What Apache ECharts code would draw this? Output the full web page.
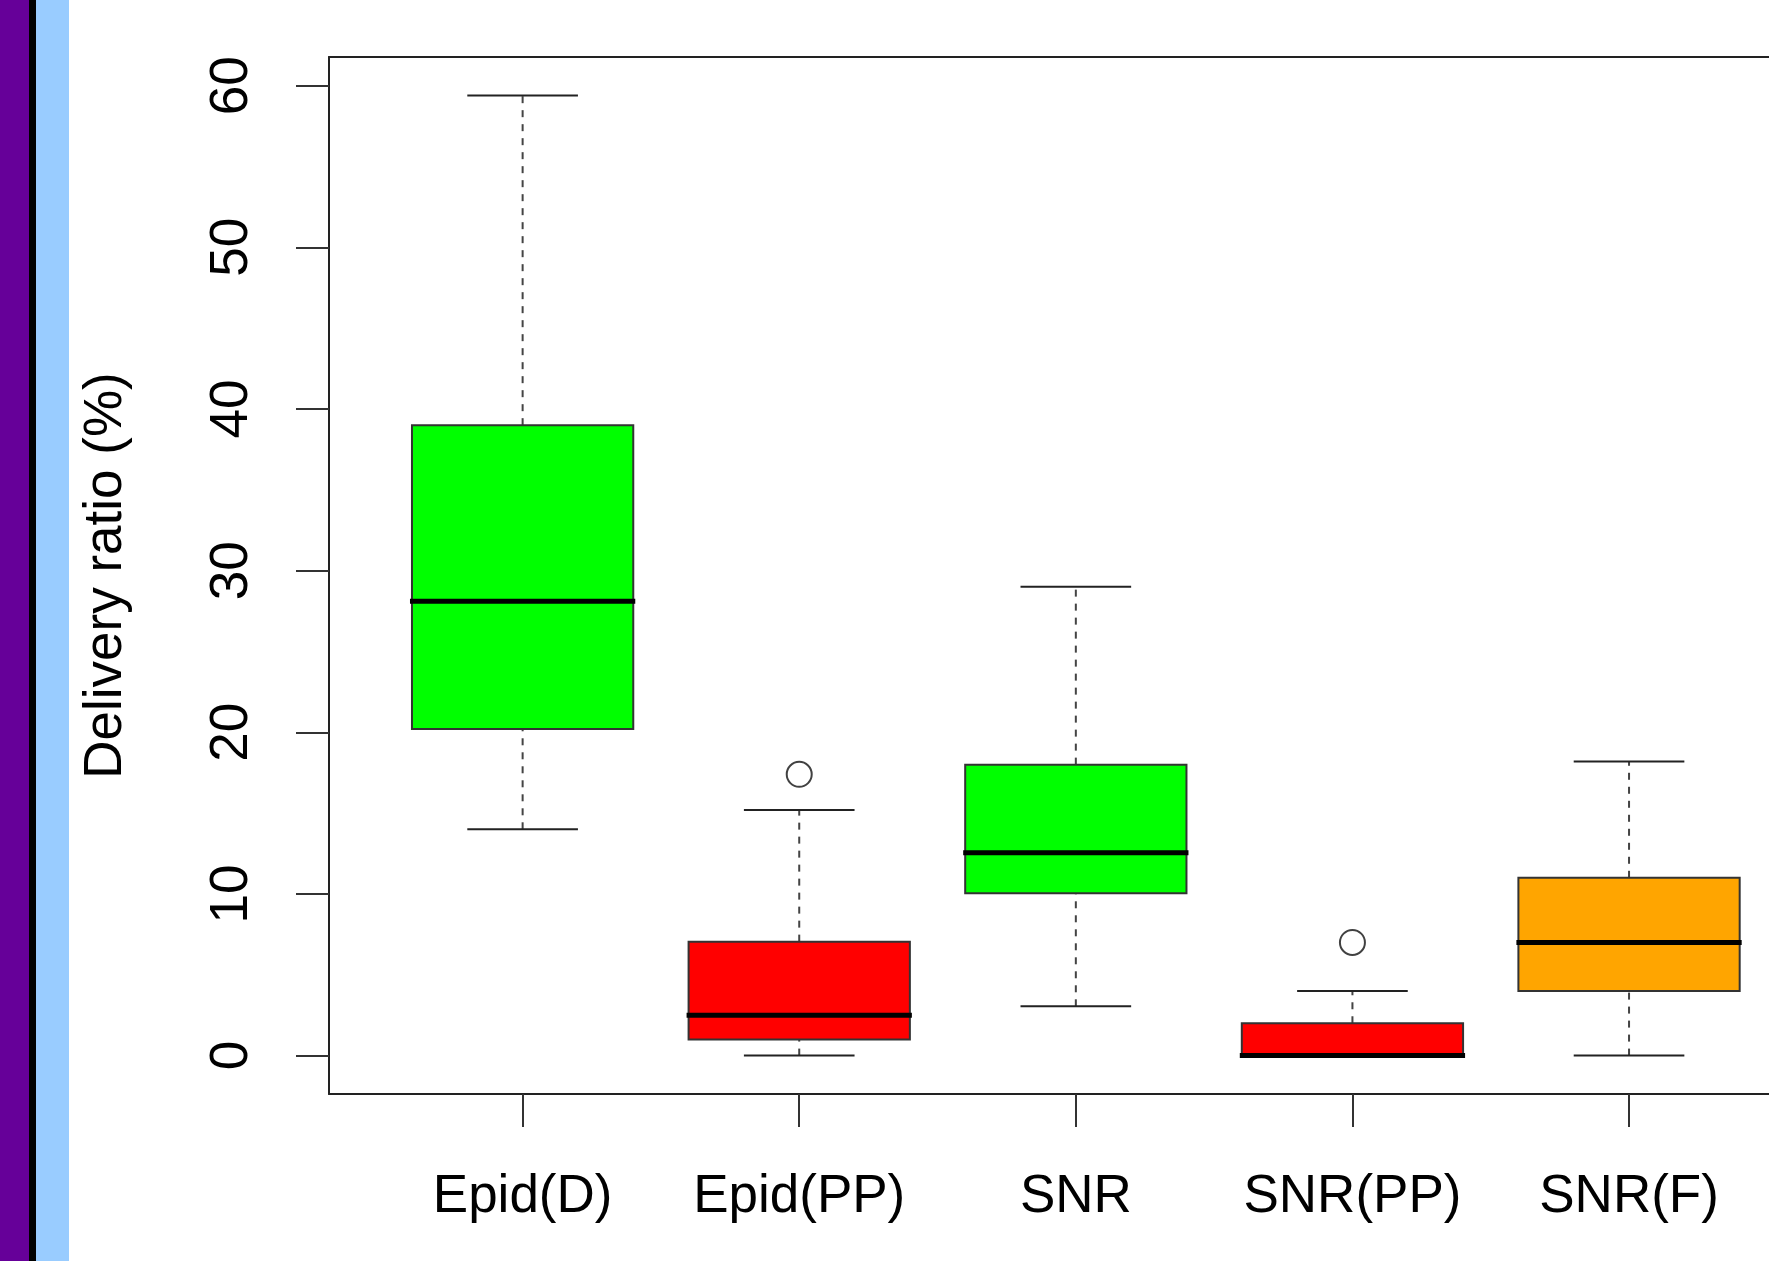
<!DOCTYPE html>
<html>
<head>
<meta charset="utf-8">
<script src="https://cdn.jsdelivr.net/npm/echarts@6/dist/echarts.min.js"></script>
<style>
  html, body { margin: 0; padding: 0; background: #fff; }
  #chart { width: 1769px; height: 1261px; }
</style>
</head>
<body>
<div id="chart"></div>
<script>
// ---- data ----
const categories = ['Epid(D)', 'Epid(PP)', 'SNR', 'SNR(PP)', 'SNR(F)'];
const whiskerLow  = [14.0, 0.0, 3.05, 0.0, 0.0];
const q1          = [20.2, 1.0, 10.05, 0.0, 4.0];
const median      = [28.1, 2.5, 12.55, 0.0, 7.0];
const q3          = [39.0, 7.05, 18.0, 2.0, 11.0];
const whiskerHigh = [59.4, 15.2, 29.0, 4.0, 18.2];
const outlierCategory = [1, 3];      // index into categories
const outlierValue    = [17.4, 7.0];
const boxColors = ['#00FF00', '#FF0000', '#00FF00', '#FF0000', '#FFA500'];
const yTicks = [0, 10, 20, 30, 40, 50, 60];
const yLabel = 'Delivery ratio (%)';

const FONT = "'Liberation Sans', Arial, Helvetica, sans-serif";
const BOX_W = 0.8, CAP_W = 0.4;
// visible x window (the original plot is cropped at the right edge)
const X_MIN = 0.3, X_MAX = 5.506;

const boxData = categories.map((c, i) =>
  [i + 1, whiskerLow[i], q1[i], median[i], q3[i], whiskerHigh[i]]);
const outlierData = outlierCategory.map((c, i) => [c + 1, outlierValue[i]]);
const xTickValues = categories.map((c, i) => i + 1);

function renderBox(params, api) {
  const x = api.value(0);
  const lo = api.value(1), b1 = api.value(2), md = api.value(3), b3 = api.value(4), hi = api.value(5);
  const pc = api.coord([x, 0]);
  const pl = api.coord([x - BOX_W / 2, 0])[0];
  const pr = api.coord([x + BOX_W / 2, 0])[0];
  const cl = api.coord([x - CAP_W / 2, 0])[0];
  const cr = api.coord([x + CAP_W / 2, 0])[0];
  const y = v => api.coord([x, v])[1];
  const cx = pc[0];
  const whisk = { stroke: '#444', lineWidth: 2, lineDash: [7, 7] };
  const solid = { stroke: '#222', lineWidth: 2 };
  const children = [];
  if (hi > b3) children.push({ type: 'line', shape: { x1: cx, y1: y(b3), x2: cx, y2: y(hi) }, style: whisk });
  if (b1 > lo) children.push({ type: 'line', shape: { x1: cx, y1: y(lo), x2: cx, y2: y(b1) }, style: whisk });
  children.push({ type: 'line', shape: { x1: cl, y1: y(hi), x2: cr, y2: y(hi) }, style: solid });
  children.push({ type: 'line', shape: { x1: cl, y1: y(lo), x2: cr, y2: y(lo) }, style: solid });
  children.push({ type: 'rect', shape: { x: pl, y: y(b3), width: pr - pl, height: y(b1) - y(b3) },
    style: { fill: boxColors[params.dataIndex], stroke: '#333', lineWidth: 2 } });
  children.push({ type: 'line', shape: { x1: pl - 2, y1: y(md), x2: pr + 2, y2: y(md) },
    style: { stroke: '#000', lineWidth: 5 } });
  return { type: 'group', children };
}

const frameLine = { show: true, onZero: false, lineStyle: { color: '#222', width: 2 } };

const chart = echarts.init(document.getElementById('chart'), null, { renderer: 'canvas' });
chart.setOption({
  animation: false,
  backgroundColor: '#ffffff',
  graphic: [
    { type: 'rect', shape: { x: 0, y: 0, width: 29, height: 1261 }, style: { fill: '#660099' }, z: 100 },
    { type: 'rect', shape: { x: 29, y: 0, width: 7, height: 1261 }, style: { fill: '#000000' }, z: 100 },
    { type: 'rect', shape: { x: 36, y: 0, width: 33, height: 1261 }, style: { fill: '#99CCFF' }, z: 100 }
  ],
  grid: { left: 329, top: 57, bottom: 167, right: 0, show: false },
  xAxis: [
    {
      type: 'value', position: 'bottom', min: X_MIN, max: X_MAX,
      axisLine: frameLine,
      splitLine: { show: false },
      axisTick: { show: true, customValues: xTickValues, length: 33, lineStyle: { color: '#333', width: 2 } },
      axisLabel: {
        show: true, customValues: xTickValues, margin: 77,
        formatter: v => categories[Math.round(v) - 1],
        fontSize: 53, color: '#000', fontFamily: FONT
      }
    },
    {
      type: 'value', position: 'top', min: X_MIN, max: X_MAX,
      axisLine: frameLine,
      splitLine: { show: false }, axisTick: { show: false }, axisLabel: { show: false }
    }
  ],
  yAxis: {
    type: 'value', min: -2.376, max: 61.776,
    name: yLabel, nameLocation: 'middle', nameGap: 196,
    nameTextStyle: { fontSize: 53, color: '#000', fontFamily: FONT },
    axisLine: frameLine,
    splitLine: { show: false },
    axisTick: { show: true, customValues: yTicks, length: 33, lineStyle: { color: '#333', width: 2 } },
    axisLabel: {
      show: true, customValues: yTicks, rotate: 90, margin: 70,
      fontSize: 53, color: '#000', fontFamily: FONT
    }
  },
  series: [
    {
      type: 'custom', name: 'box', renderItem: renderBox,
      encode: { x: 0, y: [1, 2, 3, 4, 5] },
      data: boxData, clip: false
    },
    {
      type: 'scatter', name: 'outliers', data: outlierData,
      symbol: 'circle', symbolSize: 25,
      itemStyle: { color: 'rgba(0,0,0,0)', borderColor: '#111', borderWidth: 2 }
    }
  ]
});
</script>
</body>
</html>
